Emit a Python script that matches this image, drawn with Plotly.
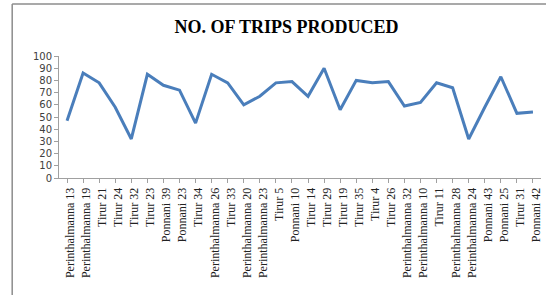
import plotly.graph_objects as go

categories = [
    "Perinthalmanna 13", "Perinthalmanna 19", "Tirur 21", "Tirur 24", "Tirur 32",
    "Tirur 23", "Ponnani 39", "Ponnani 23", "Tirur 34", "Perinthalmanna 26",
    "Tirur 33", "Perinthalmanna 20", "Perinthalmanna 23", "Tirur 5", "Ponnani 10",
    "Tirur 14", "Tirur 29", "Tirur 19", "Tirur 35", "Tirur 4",
    "Tirur 26", "Perinthalmanna 32", "Perinthalmanna 10", "Tirur 11", "Perinthalmanna 28",
    "Perinthalmanna 24", "Ponnani 43", "Ponnani 25", "Tirur 31", "Ponnani 42",
]
trips = [
    47, 86, 78, 58, 32,
    85, 76, 72, 45, 85,
    78, 60, 67, 78, 79,
    67, 90, 56, 80, 78,
    79, 59, 62, 78, 74,
    32, 58, 83, 53, 54,
]
y_ticks = list(range(0, 101, 10))

W, H = 546, 295
L, R, T, B = 59, 3, 56, 117
pw, ph = W - L - R, H - T - B

fig = go.Figure()
fig.add_trace(go.Scatter(
    x=list(range(len(categories))), y=trips, mode="lines",
    line=dict(color="#4A7EBB", width=3),
    hoverinfo="skip", showlegend=False,
))

# outer frame (only left and top edges fall inside the picture)
fx0 = (12 - L) / pw
fy1 = (H - B - 4) / ph
fig.add_shape(type="line", xref="paper", yref="paper",
              x0=fx0, x1=fx0, y0=-2.0, y1=fy1,
              line=dict(color="#8C8C8C", width=1.5), layer="below")
fig.add_shape(type="line", xref="paper", yref="paper",
              x0=fx0, x1=1.5, y0=fy1, y1=fy1,
              line=dict(color="#8C8C8C", width=1.5), layer="below")

fig.update_layout(
    width=W, height=H,
    margin=dict(l=L, r=R, t=T, b=B),
    paper_bgcolor="white", plot_bgcolor="white",
    title=dict(text="<b>NO. OF TRIPS PRODUCED</b>", x=286.5 / W, xanchor="center",
               y=1 - 27 / H, yanchor="middle",
               font=dict(family="Liberation Serif", size=18, color="#000000")),
    xaxis=dict(
        tickmode="array", tickvals=list(range(len(categories))), ticktext=categories,
        range=[-0.5, len(categories) - 0.5],
        tickangle=-90, showgrid=False, zeroline=False,
        showline=True, linecolor="#A0A0A0", linewidth=1,
        ticks="outside", ticklen=4, tickcolor="#A0A0A0",
        tickfont=dict(family="Liberation Serif", size=12, color="#222222"),
        ticklabelshift=3,
    ),
    yaxis=dict(
        range=[0, 100], tickvals=y_ticks, showgrid=False, zeroline=False,
        showline=True, linecolor="#A0A0A0", linewidth=1,
        ticks="outside", ticklen=4, tickcolor="#A0A0A0",
        tickfont=dict(family="DejaVu Sans", size=10, color="#404040"),
    ),
)

fig.write_html(
    "out.html",
    config={"displayModeBar": False},
    post_script="document.body.style.margin='0';document.body.style.overflow='hidden';",
)
